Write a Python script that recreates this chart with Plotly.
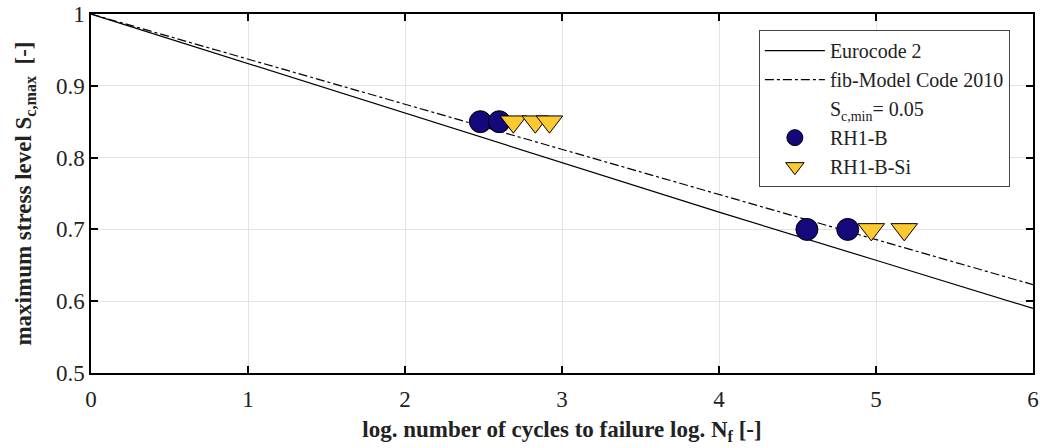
import plotly.graph_objects as go

# Design lines (log N vs S_c,max)
line_x = [0, 1, 2, 3, 4, 5, 6]
ec2_y = [1.0, 0.931, 0.862, 0.793, 0.724, 0.657, 0.590]
mc2010_y = [1.0, 0.937, 0.874, 0.811, 0.748, 0.686, 0.623]

# Test data
rh1b_x = [2.48, 2.60, 4.56, 4.82]
rh1b_y = [0.85, 0.85, 0.70, 0.70]
rh1bsi_x = [2.69, 2.83, 2.92, 4.97, 5.18]
rh1bsi_y = [0.85, 0.85, 0.85, 0.70, 0.70]

x_ticks = [0, 1, 2, 3, 4, 5, 6]
y_ticks = [0.5, 0.6, 0.7, 0.8, 0.9, 1.0]

FONT = "Liberation Serif, Times New Roman, serif"

fig = go.Figure()
fig.add_trace(go.Scatter(x=line_x, y=ec2_y, mode="lines", name="Eurocode 2",
                         line=dict(color="black", width=1.2)))
fig.add_trace(go.Scatter(x=line_x, y=mc2010_y, mode="lines", name="fib-Model Code 2010",
                         line=dict(color="black", width=1.2, dash="dashdot")))
fig.add_trace(go.Scatter(x=[None], y=[None], mode="markers",
                         name="S<sub>c,min</sub>= 0.05",
                         marker=dict(color="rgba(0,0,0,0)", size=1)))
fig.add_trace(go.Scatter(x=rh1b_x, y=rh1b_y, mode="markers", name="RH1-B",
                         marker=dict(symbol="circle", size=22, color="#14087a",
                                     line=dict(color="black", width=1))))
fig.add_trace(go.Scatter(x=rh1bsi_x, y=rh1bsi_y, mode="markers", name="RH1-B-Si",
                         marker=dict(symbol="triangle-down", size=23, color="#fdc930",
                                     line=dict(color="black", width=1))))

axis_common = dict(showline=True, linecolor="black", linewidth=1.5, mirror="ticks",
                   ticks="inside", ticklen=7, tickwidth=1.5, tickcolor="black",
                   showgrid=True, gridcolor="#e3e3e3", gridwidth=1, zeroline=False,
                   automargin=False, ticklabeloverflow="allow",
                   tickfont=dict(family=FONT, size=23, color="#222"))

fig.update_xaxes(range=[0, 6], tickvals=x_ticks, **axis_common, ticklabelstandoff=5,
                 title=dict(text="<b>log. number of cycles to failure log. N<sub>f</sub> [-]</b>",
                            font=dict(family=FONT, size=23, color="#222"), standoff=10))
fig.update_yaxes(range=[0.5, 1.0], tickvals=y_ticks, **axis_common,
                 title=dict(text="<b>maximum stress level S<sub>c,max</sub>  [-]</b>",
                            font=dict(family=FONT, size=23, color="#222"), standoff=18))

fig.update_layout(
    width=1040, height=448,
    margin=dict(l=91, r=7, t=14, b=75, autoexpand=False),
    plot_bgcolor="white", paper_bgcolor="white",
    font=dict(family=FONT, size=20, color="#222"),
    legend=dict(x=0.709, y=0.955, xanchor="left", yanchor="top",
                bordercolor="#444", borderwidth=1, bgcolor="white",
                font=dict(family=FONT, size=20, color="#222"),
                itemwidth=60, tracegroupgap=0),
    showlegend=True,
)

fig.write_html("out.html", config={"displayModeBar": False},
               post_script="document.body.style.margin='0';document.body.style.overflow='hidden';")
